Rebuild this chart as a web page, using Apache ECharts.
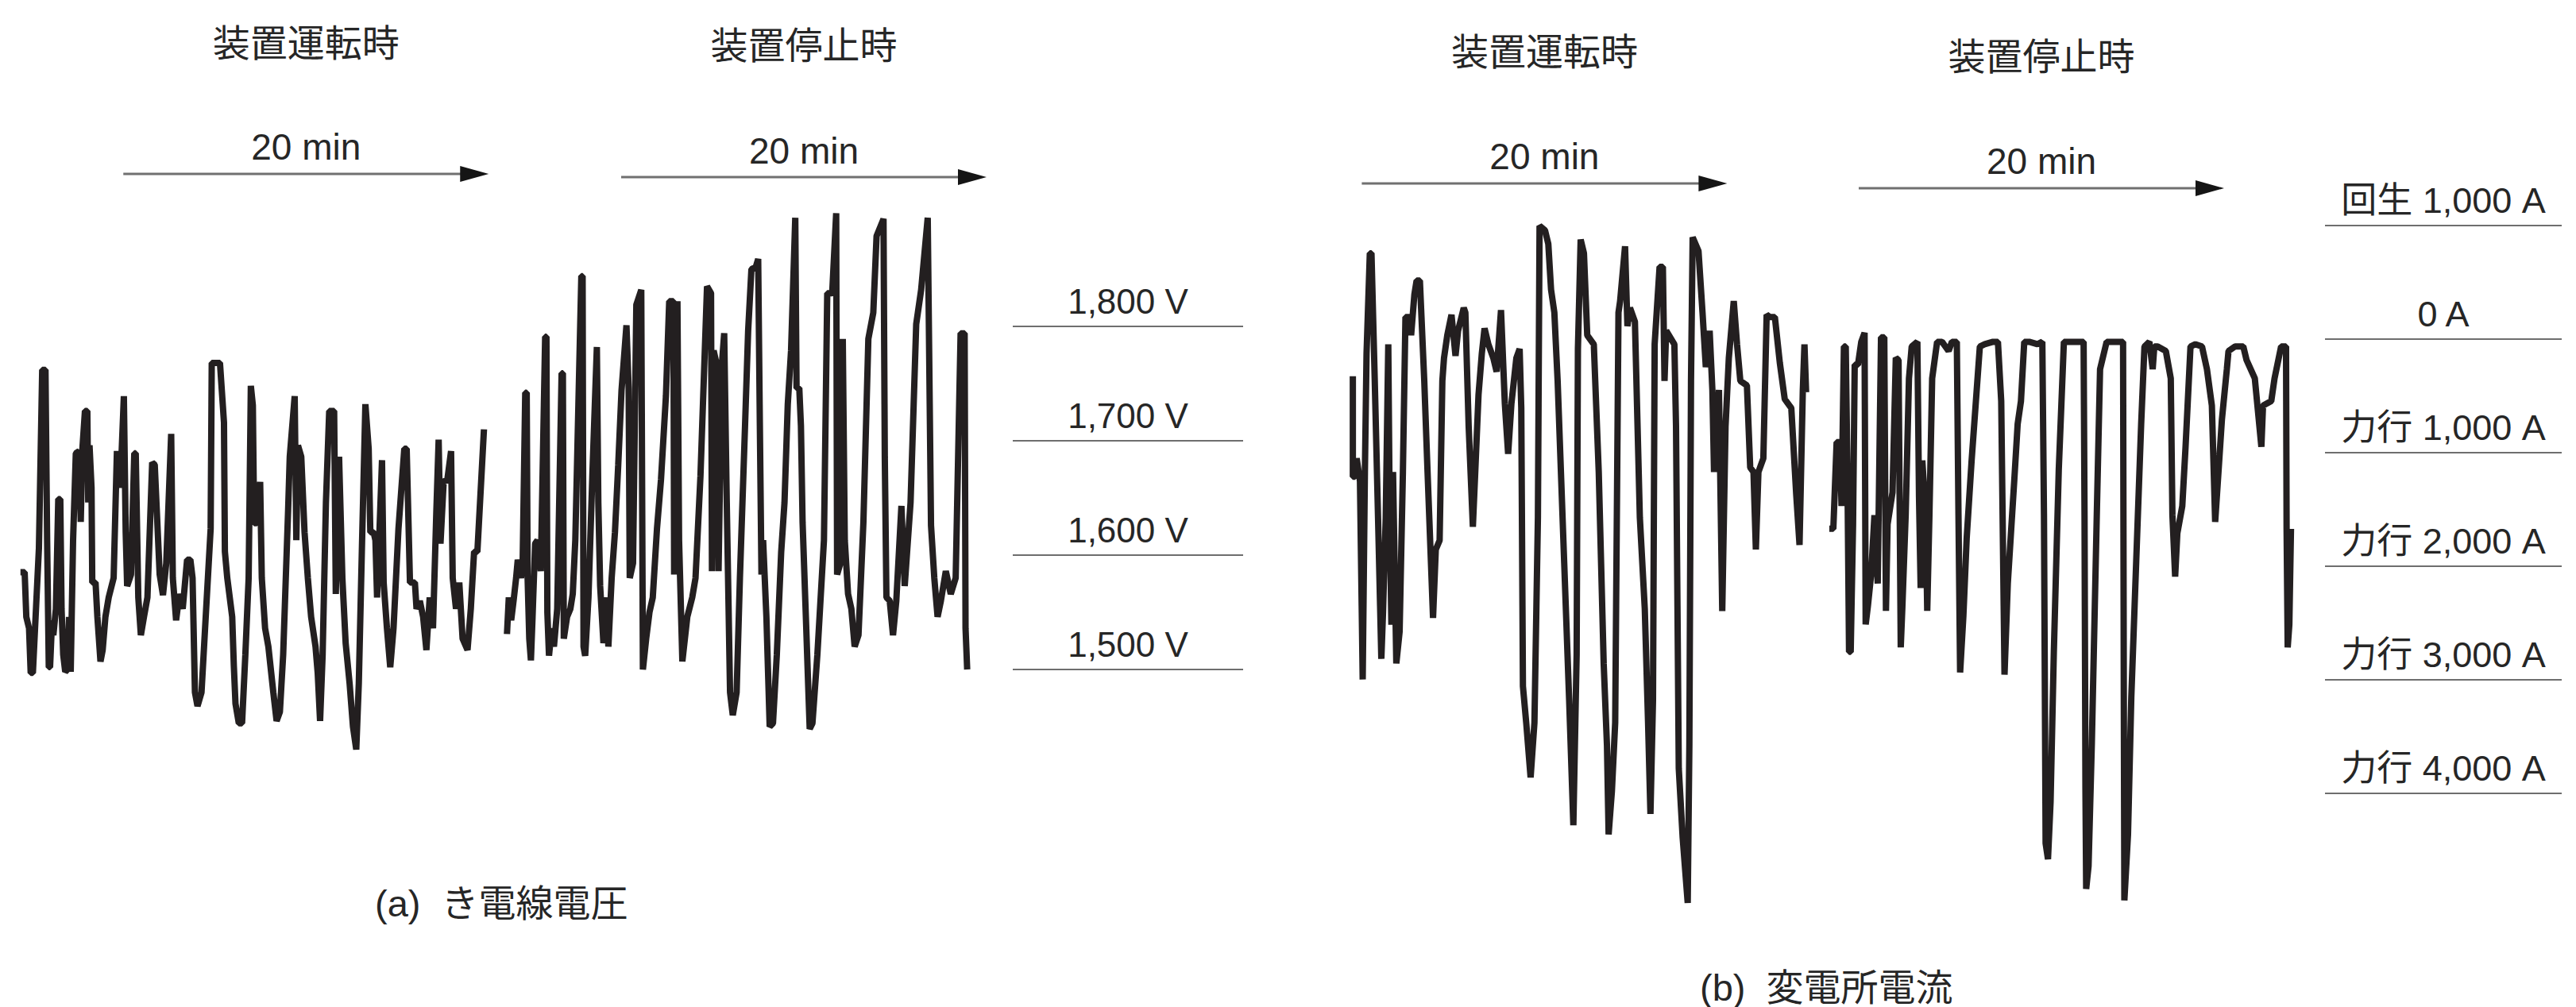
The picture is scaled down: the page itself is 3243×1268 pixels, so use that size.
<!DOCTYPE html>
<html>
<head>
<meta charset="utf-8">
<script src="https://cdn.jsdelivr.net/npm/echarts@6/dist/echarts.min.js"></script>
<style>
  html, body { margin: 0; padding: 0; background: #ffffff; }
  #chart { width: 3243px; height: 1268px; }
</style>
</head>
<body>
<div id="chart"></div>
<script>
// ---- Feeder voltage (V): [minute, volts] ----
const voltRunning = [
  [1.12,1585],[1.35,1585],[1.44,1546],[1.59,1536],[1.68,1497],[1.80,1497],[2.13,1606],[2.31,1762],[2.49,1762],[2.58,1613],
  [2.67,1502],[2.74,1502],[2.85,1543],[2.92,1530],[3.06,1553],[3.19,1649],[3.30,1649],[3.37,1553],[3.46,1513],[3.57,1498],
  [3.69,1500],[3.78,1546],[3.87,1498],[4.00,1613],[4.15,1689],[4.33,1691],[4.42,1629],[4.51,1693],[4.65,1726],[4.78,1726],
  [4.83,1646],[4.90,1696],[5.01,1659],[5.05,1576],[5.23,1576],[5.33,1546],[5.50,1507],[5.62,1517],[5.77,1546],[5.95,1563],
  [6.22,1580],[6.40,1691],[6.58,1659],[6.78,1739],[6.88,1620],[6.96,1573],[7.17,1583],[7.35,1689],[7.43,1689],[7.57,1563],
  [7.71,1530],[7.88,1546],[8.07,1563],[8.33,1681],[8.47,1679],[8.74,1583],[8.92,1565],[9.10,1593],[9.37,1706],[9.46,1580],
  [9.64,1543],[9.82,1566],[10.00,1553],[10.24,1596],[10.42,1596],[10.54,1580],[10.67,1480],[10.81,1468],[11.03,1480],[11.26,1546],
  [11.53,1623],[11.59,1768],[12.04,1768],[12.26,1716],[12.31,1603],[12.44,1580],[12.71,1546],[12.80,1503],[12.89,1470],[13.07,1453],
  [13.25,1453],[13.43,1513],[13.61,1580],[13.73,1748],[13.84,1731],[13.91,1628],[14.06,1628],[14.24,1664],[14.33,1580],[14.51,1536],
  [14.69,1520],[14.96,1480],[15.14,1455],[15.32,1463],[15.50,1513],[15.77,1639],[15.86,1686],[16.13,1739],[16.22,1613],[16.31,1696],
  [16.49,1686],[16.67,1620],[16.85,1580],[17.03,1546],[17.27,1520],[17.39,1497],[17.52,1455],[17.66,1513],[17.84,1646],[18.02,1726],
  [18.29,1726],[18.38,1566],[18.56,1686],[18.74,1580],[18.92,1523],[19.14,1487],[19.32,1450],[19.50,1430],[19.64,1488],[19.82,1613],
  [20.00,1732],[20.18,1693],[20.27,1620],[20.45,1620],[20.55,1613],[20.64,1563],[20.91,1683],[21.00,1576],[21.18,1536],[21.36,1502],
  [21.54,1536],[21.81,1623],[22.13,1693],[22.26,1693],[22.44,1576],[22.71,1576],[22.80,1553],[22.98,1560],[23.16,1546],[23.34,1517],
  [23.52,1563],[23.70,1536],[23.88,1636],[24.01,1701],[24.11,1610],[24.29,1666],[24.47,1664],[24.69,1691],[24.78,1580],[24.96,1553],
  [25.14,1576],[25.32,1527],[25.59,1517],[25.77,1553],[25.95,1603],[26.13,1603],[26.49,1710]
];
const voltStopped = [
  [27.75,1531],[27.85,1563],[27.98,1543],[28.11,1560],[28.25,1580],[28.34,1596],[28.52,1580],[28.61,1596],[28.75,1742],[28.83,1742],
  [28.88,1580],[28.97,1527],[29.06,1508],[29.15,1546],[29.29,1610],[29.42,1613],[29.60,1586],[29.84,1791],[29.91,1791],[29.96,1550],
  [30.05,1512],[30.20,1536],[30.32,1520],[30.50,1553],[30.74,1759],[30.81,1759],[30.86,1527],[31.04,1546],[31.22,1553],[31.35,1566],
  [31.49,1613],[31.82,1844],[31.89,1844],[31.94,1520],[32.03,1512],[32.21,1563],[32.43,1673],[32.67,1782],[32.75,1646],[32.85,1573],
  [33.03,1523],[33.21,1563],[33.30,1520],[33.48,1580],[33.66,1620],[33.84,1679],[34.02,1744],[34.29,1801],[34.41,1746],[34.47,1580],
  [34.65,1593],[34.83,1819],[35.10,1832],[35.19,1500],[35.37,1527],[35.55,1550],[35.73,1563],[35.96,1623],[36.18,1666],[36.45,1739],
  [36.63,1822],[36.86,1822],[36.90,1583],[37.08,1822],[37.17,1613],[37.35,1507],[37.62,1546],[37.89,1563],[38.07,1580],[38.34,1669],
  [38.70,1835],[38.92,1829],[38.97,1586],[39.06,1779],[39.24,1766],[39.33,1586],[39.51,1766],[39.64,1794],[39.78,1646],[39.96,1480],
  [40.11,1460],[40.32,1480],[40.50,1580],[40.78,1713],[40.95,1796],[41.13,1850],[41.37,1852],[41.50,1859],[41.59,1716],[41.68,1583],
  [41.77,1613],[41.95,1546],[42.13,1450],[42.31,1453],[42.52,1513],[42.76,1603],[42.94,1646],[43.12,1732],[43.30,1779],[43.53,1895],
  [43.60,1746],[43.75,1746],[43.84,1713],[43.93,1629],[44.11,1546],[44.25,1480],[44.32,1448],[44.47,1453],[44.74,1513],[45.10,1613],
  [45.28,1829],[45.55,1829],[45.77,1899],[45.82,1583],[46.00,1593],[46.13,1789],[46.24,1613],[46.42,1566],[46.60,1553],[46.78,1520],
  [46.99,1530],[47.26,1629],[47.53,1789],[47.80,1812],[47.98,1879],[48.36,1894],[48.43,1686],[48.52,1563],[48.70,1560],[48.88,1530],
  [49.06,1560],[49.34,1643],[49.52,1573],[49.84,1646],[50.15,1802],[50.42,1832],[50.78,1895],[50.96,1626],[51.14,1580],[51.32,1546],
  [51.50,1560],[51.77,1586],[52.04,1566],[52.31,1580],[52.58,1794],[52.80,1794],[52.85,1536],[52.94,1500]
];

// ---- Substation current (A): [minute, amps], powering positive, regeneration negative ----
const currentRunning = [
  [2.31,327],[2.31,1211],[2.43,1211],[2.52,1050],[2.70,1251],[2.85,2997],[2.97,1170],[3.06,127],[3.24,-756],[3.33,-756],
  [3.51,368],[3.69,1572],[3.87,2816],[3.96,2415],[4.11,1572],[4.25,46],[4.33,1572],[4.42,2515],[4.51,1170],[4.69,2856],
  [4.87,2575],[5.05,1170],[5.19,-194],[5.41,-194],[5.50,-34],[5.68,-395],[5.80,-515],[5.98,-515],[6.22,368],[6.40,1170],
  [6.70,2455],[6.85,1853],[7.06,1773],[7.21,368],[7.30,167],[7.48,-34],[7.71,-214],[7.93,147],[8.07,-74],[8.38,-275],
  [8.47,-234],[8.65,769],[8.88,1652],[9.01,1170],[9.19,488],[9.37,127],[9.52,-94],[9.73,46],[10.00,167],[10.18,287],
  [10.42,-255],[10.63,568],[10.81,1010],[10.99,568],[11.26,167],[11.44,87],[11.53,608],[11.62,3057],[11.80,3378],[12.04,3860],
  [12.25,3378],[12.44,1572],[12.53,-997],[12.83,-957],[13.01,-837],[13.16,-435],[13.34,-234],[13.52,368],[13.88,1973],[14.15,3177],
  [14.38,4281],[14.56,2776],[14.63,87],[14.78,-877],[14.96,-756],[15.14,-34],[15.50,46],[15.77,1170],[16.04,2856],[16.22,3579],
  [16.31,4362],[16.49,3980],[16.67,3378],[16.85,-234],[16.94,-335],[17.21,-817],[17.34,-114],[17.48,-275],[17.75,-154],[18.02,1572],
  [18.29,2375],[18.47,3378],[18.60,4181],[18.74,3177],[18.83,46],[19.10,-636],[19.28,-636],[19.37,368],[19.46,-74],[19.91,46],
  [20.00,769],[20.15,3780],[20.36,4382],[20.64,4964],[20.73,3579],[20.82,368],[20.91,-897],[21.23,-776],[21.45,-234],[21.63,247],
  [21.84,-74],[21.99,448],[22.08,1170],[22.35,448],[22.53,2395],[22.71,769],[22.89,167],[23.16,-335],[23.34,46],[23.52,368],
  [23.88,408],[24.06,1130],[24.24,1170],[24.37,1853],[24.51,1170],[24.78,1050],[24.96,-214],[25.14,-194],[25.41,-194],[25.68,207],
  [25.95,528],[26.31,608],[26.58,1371],[26.76,1813],[26.94,448],[27.03,46],[27.12,468]
];
const currentStopped = [
  [28.39,1670],[28.61,1670],[28.79,908],[28.97,908],[29.06,1470],[29.19,65],[29.29,65],[29.38,1148],[29.47,2754],[29.56,2754],
  [29.69,1630],[29.78,225],[29.96,225],[30.14,24],[30.32,-56],[30.38,2513],[30.50,2353],[30.68,2072],[30.86,1550],[31.04,2152],
  [31.22,-16],[31.40,-16],[31.49,2393],[31.58,1630],[31.85,1349],[32.03,165],[32.18,185],[32.30,2714],[32.39,2353],[32.57,1550],
  [32.75,346],[32.90,65],[33.21,24],[33.30,1389],[33.39,2192],[33.48,1068],[33.66,1510],[33.75,2393],[33.87,1550],[34.02,346],
  [34.29,24],[34.56,24],[34.92,105],[35.10,24],[35.37,24],[35.46,1550],[35.55,2935],[35.73,2433],[35.91,1751],[36.18,1068],
  [36.45,466],[36.63,65],[36.90,45],[37.35,24],[37.62,24],[37.80,546],[37.98,2955],[38.16,2152],[38.52,1229],[38.70,747],
  [38.88,546],[39.06,24],[39.33,24],[39.78,45],[40.05,24],[40.14,1550],[40.23,4440],[40.36,4580],[40.50,4079],[40.68,2754],
  [40.95,1148],[41.23,24],[41.77,24],[42.31,24],[42.36,1550],[42.41,3958],[42.45,4841],[42.58,4641],[42.76,3557],[43.03,1550],
  [43.21,265],[43.57,24],[44.47,24],[44.51,3155],[44.54,4942],[44.74,4360],[44.92,3155],[45.19,1951],[45.46,747],[45.64,65],
  [45.91,24],[46.09,265],[46.18,65],[46.36,65],[46.81,105],[47.08,346],[47.17,1550],[47.32,2092],[47.44,1710],[47.71,1470],
  [47.89,948],[48.16,65],[48.43,45],[48.79,65],[49.06,265],[49.33,586],[49.51,1610],[49.70,1148],[49.88,707],[50.15,265],
  [50.24,105],[50.60,65],[51.05,65],[51.23,185],[51.68,346],[52.04,948],[52.13,586],[52.58,546],[52.76,346],[53.12,65],
  [53.39,65],[53.42,1670],[53.48,2714],[53.57,2513],[53.66,1670]
];

// ---- Reference levels and their labels ----
const voltLevels = [1800, 1700, 1600, 1500];
const voltLabels = ['1,800 V', '1,700 V', '1,600 V', '1,500 V'];
const currentLevels = [-1000, 0, 1000, 2000, 3000, 4000];
const currentLabels = ['回生 1,000 A', '0 A', '力行 1,000 A', '力行 2,000 A', '力行 3,000 A', '力行 4,000 A'];

// ---- Annotation text ----
const stateTitles = ['装置運転時', '装置停止時'];
const spanLabel = '20 min';
const spanMinutes = 20;
const captions = ['(a)  き電線電圧', '(b)  変電所電流'];

// ---- Styling / layout ----
const LATIN = '"Liberation Sans", "Noto Sans CJK JP", sans-serif';
const CJK = '"Noto Sans CJK JP", sans-serif';
const INK = '#231f20';
const TEXT = '#262626';
const RULE = '#6e6e6e';

const gridA = { top: 252.6, height: 748.8 };
const gridB = { top: 269.7, height: 886.6 };

function trace(data, idx) {
  return {
    type: 'line', xAxisIndex: idx, yAxisIndex: idx, data: data,
    symbol: 'none', showSymbol: false, clip: false, silent: true,
    lineStyle: { color: INK, width: 8, join: 'bevel', cap: 'butt' }
  };
}

function levelRules(levels, labels, idx, fontSize) {
  return {
    type: 'custom', xAxisIndex: idx, yAxisIndex: idx, silent: true, clip: false,
    data: levels.map(function (v) { return [0, v]; }),
    encode: { x: 0, y: 1 },
    renderItem: function (params, api) {
      const cs = params.coordSys;
      const py = api.coord([0, api.value(1)])[1];
      return {
        type: 'group',
        children: [
          { type: 'line', shape: { x1: cs.x, y1: py, x2: cs.x + cs.width, y2: py },
            style: { stroke: RULE, lineWidth: 2 } },
          { type: 'text', x: cs.x + cs.width / 2, y: py - 32,
            style: { text: labels[params.dataIndex], fill: TEXT,
                     font: fontSize + 'px ' + LATIN, align: 'center', verticalAlign: 'middle' } }
        ]
      };
    }
  };
}

const chart = echarts.init(document.getElementById('chart'), null, { renderer: 'svg' });

chart.setOption({
  animation: false,
  backgroundColor: '#ffffff',
  grid: [
    { left: 0,    top: gridA.top, width: 1242, height: gridA.height },
    { left: 1275, top: gridA.top, width: 290,  height: gridA.height },
    { left: 1650, top: gridB.top, width: 1242, height: gridB.height },
    { left: 2927, top: gridB.top, width: 298,  height: gridB.height }
  ],
  xAxis: [
    { gridIndex: 0, type: 'value', min: 0, max: 54, show: false },
    { gridIndex: 1, type: 'value', min: 0, max: 1,  show: false },
    { gridIndex: 2, type: 'value', min: 0, max: 54, show: false },
    { gridIndex: 3, type: 'value', min: 0, max: 1,  show: false }
  ],
  yAxis: [
    { gridIndex: 0, type: 'value', min: 1390, max: 1910, show: false },
    { gridIndex: 1, type: 'value', min: 1390, max: 1910, show: false },
    { gridIndex: 2, type: 'value', min: -1100, max: 5100, inverse: true, show: false },
    { gridIndex: 3, type: 'value', min: -1100, max: 5100, inverse: true, show: false }
  ],
  series: [
    trace(voltRunning, 0),
    trace(voltStopped, 0),
    levelRules(voltLevels, voltLabels, 1, 44),
    trace(currentRunning, 2),
    trace(currentStopped, 2),
    levelRules(currentLevels, currentLabels, 3, 45)
  ]
});

// "20 min" span arrows, placed on each panel's time axis
const panels = [
  { axis: 0, starts: [6.75, 34.0], titleY: [50, 53], spanY: [185, 190], arrowY: [219, 223] },
  { axis: 2, starts: [2.8, 30.0],  titleY: [61, 67], spanY: [197, 203], arrowY: [231, 237] }
];

const graphics = [];
panels.forEach(function (p) {
  p.starts.forEach(function (t0, i) {
    const x1 = chart.convertToPixel({ xAxisIndex: p.axis }, t0);
    const x2 = chart.convertToPixel({ xAxisIndex: p.axis }, t0 + spanMinutes);
    const cx = (x1 + x2) / 2;
    const ay = p.arrowY[i];
    graphics.push(
      { type: 'line', silent: true, shape: { x1: x1, y1: ay, x2: x2 - 34, y2: ay },
        style: { stroke: '#707070', lineWidth: 3 } },
      { type: 'polygon', silent: true,
        shape: { points: [[x2, ay], [x2 - 36, ay - 10], [x2 - 36, ay + 10]] },
        style: { fill: '#151515' } },
      { type: 'text', silent: true, x: cx, y: p.spanY[i],
        style: { text: spanLabel, fill: TEXT, font: '46px ' + LATIN, align: 'center', verticalAlign: 'middle' } },
      { type: 'text', silent: true, x: cx, y: p.titleY[i],
        style: { text: stateTitles[i], fill: TEXT, font: '47px ' + CJK, align: 'center', verticalAlign: 'middle' } }
    );
  });
});

graphics.push(
  { type: 'text', silent: true, x: 472, y: 1137,
    style: { text: captions[0], fill: TEXT, font: '47px ' + LATIN, align: 'left', verticalAlign: 'middle' } },
  { type: 'text', silent: true, x: 2140, y: 1243,
    style: { text: captions[1], fill: TEXT, font: '47px ' + LATIN, align: 'left', verticalAlign: 'middle' } }
);

chart.setOption({ graphic: graphics });
</script>
</body>
</html>
